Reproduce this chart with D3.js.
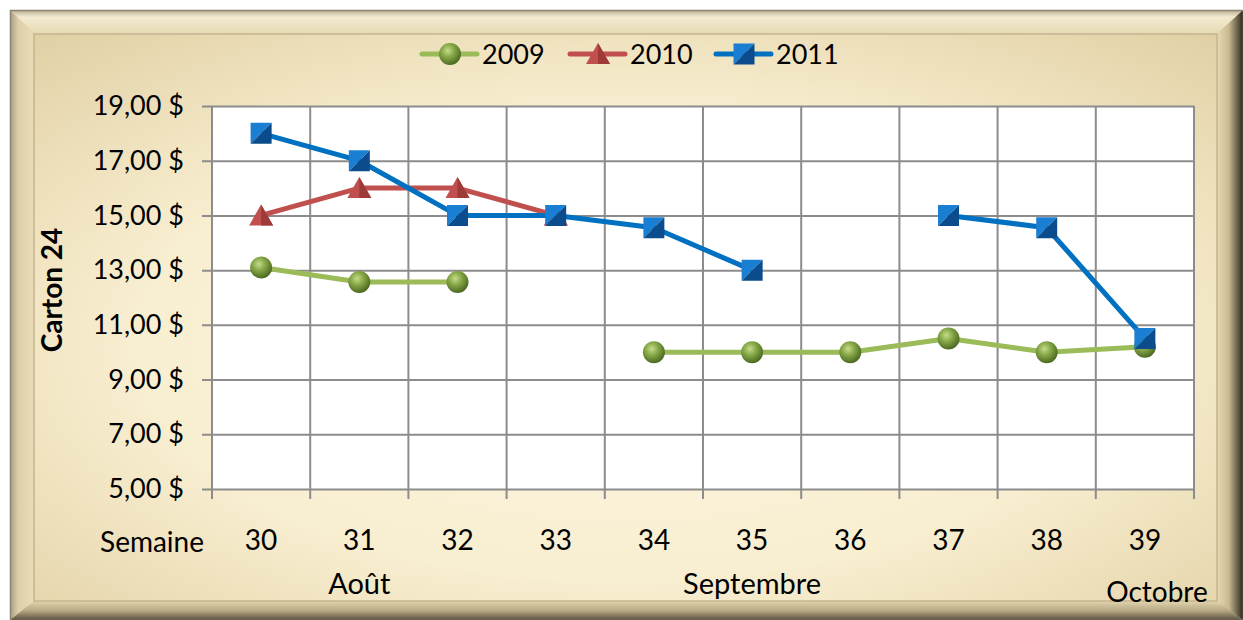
<!DOCTYPE html>
<html>
<head>
<meta charset="utf-8">
<script src="https://cdn.jsdelivr.net/npm/d3@7"></script>
<style>
  html, body { margin: 0; padding: 0; background: #fff; }
  svg { display: block; font-family: Lato, "Open Sans", sans-serif; }
</style>
</head>
<body>
<svg id="chart" width="1243" height="620"></svg>
<script>
// week numbers on the x axis
var weeks = ["30", "31", "32", "33", "34", "35", "36", "37", "38", "39"];
// price per carton of 24, null = no data that week
var v2009 = [13.1, 12.57, 12.57, null, 10.0, 10.0, 10.0, 10.5, 10.0, 10.2];
var v2010 = [15.0, 16.0, 16.0, 15.0, null, null, null, null, null, null];
var v2011 = [18.0, 17.0, 15.0, 15.0, 14.55, 13.0, null, 15.0, 14.55, 10.5];
var yTicks = [5, 7, 9, 11, 13, 15, 17, 19];
var months = [{label: "Août", week: "31"}, {label: "Septembre", week: "35"}];

var series = [
  {name: "2009", values: v2009, color: "#9bbb59", marker: "circle"},
  {name: "2010", values: v2010, color: "#c0504d", marker: "triangle"},
  {name: "2011", values: v2011, color: "#0070c0", marker: "square"}
];

var W = 1243, H = 620;
var plot = {left: 212, right: 1194, top: 106, bottom: 489};

var svg = d3.select("#chart");
var defs = svg.append("defs");

// ---- gradients
var bg = defs.append("radialGradient").attr("id", "panelBg")
    .attr("cx", "50%").attr("cy", "55%").attr("r", "75%");
bg.append("stop").attr("offset", "0%").attr("stop-color", "#fdf7e3");
bg.append("stop").attr("offset", "55%").attr("stop-color", "#f8eed0");
bg.append("stop").attr("offset", "100%").attr("stop-color", "#e0cfa3");

var rightBev = defs.append("linearGradient").attr("id", "rightBev")
    .attr("x1", "0%").attr("x2", "100%");
rightBev.append("stop").attr("offset", "0%").attr("stop-color", "#e6d8b2");
rightBev.append("stop").attr("offset", "45%").attr("stop-color", "#c9ba92");
rightBev.append("stop").attr("offset", "100%").attr("stop-color", "#2e281d");

var bottomBev = defs.append("linearGradient").attr("id", "bottomBev")
    .attr("x1", "0%").attr("x2", "0%").attr("y1", "0%").attr("y2", "100%");
bottomBev.append("stop").attr("offset", "0%").attr("stop-color", "#e2d4ad");
bottomBev.append("stop").attr("offset", "50%").attr("stop-color", "#b7a984");
bottomBev.append("stop").attr("offset", "100%").attr("stop-color", "#5b5242");

var leftBev = defs.append("linearGradient").attr("id", "leftBev")
    .attr("x1", "0%").attr("x2", "100%");
leftBev.append("stop").attr("offset", "0%").attr("stop-color", "#a89d84");
leftBev.append("stop").attr("offset", "35%").attr("stop-color", "#dccfaa");
leftBev.append("stop").attr("offset", "100%").attr("stop-color", "#e9dcb7");

var topBev = defs.append("linearGradient").attr("id", "topBev")
    .attr("x1", "0%").attr("x2", "0%").attr("y1", "0%").attr("y2", "100%");
topBev.append("stop").attr("offset", "0%").attr("stop-color", "#b8ad93");
topBev.append("stop").attr("offset", "30%").attr("stop-color", "#f3ead0");
topBev.append("stop").attr("offset", "100%").attr("stop-color", "#e6d9b4");

var ball = defs.append("radialGradient").attr("id", "ball")
    .attr("cx", "40%").attr("cy", "35%").attr("r", "65%");
ball.append("stop").attr("offset", "0%").attr("stop-color", "#c6dc8c");
ball.append("stop").attr("offset", "45%").attr("stop-color", "#86a847");
ball.append("stop").attr("offset", "100%").attr("stop-color", "#4d6a22");

// ---- frame
var o = {l: 10, t: 10, r: 1243, b: 620};
var i = {l: 34, t: 34, r: 1217, b: 601};
svg.append("rect").attr("x", o.l).attr("y", o.t)
    .attr("width", o.r - o.l).attr("height", o.b - o.t).attr("fill", "#d7c9a2");
function quad(pts, fill) {
  svg.append("path").attr("d", "M" + pts.join("L") + "Z").attr("fill", fill);
}
quad([[o.l, o.t], [o.r, o.t], [i.r, i.t], [i.l, i.t]], "url(#topBev)");
quad([[o.l, o.t], [i.l, i.t], [i.l, i.b], [o.l, o.b]], "url(#leftBev)");
quad([[o.r, o.t], [o.r, o.b], [i.r, i.b], [i.r, i.t]], "url(#rightBev)");
quad([[o.l, o.b], [i.l, i.b], [i.r, i.b], [o.r, o.b]], "url(#bottomBev)");
svg.append("rect").attr("x", o.l + 0.5).attr("y", o.t + 0.5)
    .attr("width", o.r - o.l).attr("height", o.b - o.t)
    .attr("fill", "none").attr("stroke", "#8d8470").attr("stroke-width", 1.5);
svg.append("rect").attr("x", i.l).attr("y", i.t)
    .attr("width", i.r - i.l).attr("height", i.b - i.t)
    .attr("fill", "url(#panelBg)").attr("stroke", "#c4b58e").attr("stroke-width", 1.5);

// ---- scales
var x = d3.scaleBand().domain(weeks).range([plot.left, plot.right]);
var y = d3.scaleLinear().domain([5, 19]).range([plot.bottom, plot.top]);
var cx = function(w) { return x(w) + x.bandwidth() / 2; };

// plot background
svg.append("rect").attr("x", plot.left).attr("y", plot.top)
    .attr("width", plot.right - plot.left).attr("height", plot.bottom - plot.top)
    .attr("fill", "#fff");

var gridColor = "#8c8c8c";
// horizontal gridlines + left ticks
var yAxis = d3.axisLeft(y).tickValues(yTicks)
    .tickSize(10).tickPadding(18)
    .tickFormat(function(d) { return d3.format(".2f")(d).replace(".", ",") + " $"; });
var gy = svg.append("g").attr("transform", "translate(" + plot.left + ",0)").call(yAxis);
gy.select(".domain").remove();
gy.selectAll("line").attr("stroke", gridColor).attr("stroke-width", 2)
    .attr("x2", -10).attr("x1", plot.right - plot.left);
gy.selectAll("text").attr("font-size", 27).attr("fill", "#000")
    .attr("font-family", "Lato, sans-serif");

// vertical gridlines at category boundaries + bottom ticks
var bounds = weeks.map(function(w) { return x(w); }).concat([plot.right]);
svg.append("g").selectAll("line").data(bounds).join("line")
    .attr("x1", function(d) { return d; }).attr("x2", function(d) { return d; })
    .attr("y1", plot.top).attr("y2", plot.bottom + 10)
    .attr("stroke", gridColor).attr("stroke-width", 2);

// x labels
var gx = svg.append("g");
gx.selectAll("text.wk").data(weeks).join("text").attr("class", "wk")
    .attr("x", cx).attr("y", 550).attr("text-anchor", "middle")
    .attr("font-size", 28).text(function(d) { return d; });
gx.append("text").attr("x", 204).attr("y", 552).attr("text-anchor", "end")
    .attr("font-size", 28).text("Semaine");
gx.selectAll("text.mo").data(months).join("text").attr("class", "mo")
    .attr("x", function(d) { return cx(d.week); }).attr("y", 594)
    .attr("text-anchor", "middle").attr("font-size", 29)
    .text(function(d) { return d.label; });
gx.append("text").attr("x", 1157).attr("y", 602).attr("text-anchor", "middle")
    .attr("font-size", 28).text("Octobre");

// y title
svg.append("text")
    .attr("transform", "translate(62,290) rotate(-90)")
    .attr("text-anchor", "middle").attr("font-size", 28).attr("font-weight", "bold")
    .text("Carton 24");

// ---- markers
function drawMarker(g, type, px, py, color, s) {
  s = s || 1;
  if (type === "circle") {
    g.append("circle").attr("cx", px).attr("cy", py).attr("r", 11 * s)
        .attr("fill", "url(#ball)");
  } else if (type === "triangle") {
    var h = 11 * s, w = 12 * s;
    g.append("path").attr("d", "M" + px + "," + (py - h) + "L" + (px + w) + "," + (py + h - 1) +
        "L" + (px - w) + "," + (py + h - 1) + "Z").attr("fill", "#c0504d");
    g.append("path").attr("d", "M" + px + "," + (py - h) + "L" + (px + w) + "," + (py + h - 1) +
        "L" + px + "," + (py + h - 1) + "Z").attr("fill", "#9e3a37");
  } else {
    var a = 10.5 * s;
    g.append("path").attr("d", "M" + (px - a) + "," + (py - a) + "L" + (px + a) + "," + (py - a) +
        "L" + (px - a) + "," + (py + a) + "Z").attr("fill", "#1a7fd2");
    g.append("path").attr("d", "M" + (px + a) + "," + (py - a) + "L" + (px + a) + "," + (py + a) +
        "L" + (px - a) + "," + (py + a) + "Z").attr("fill", "#0b4c8c");
  }
}

// ---- series
var line = d3.line()
    .defined(function(d) { return d.v != null; })
    .x(function(d) { return cx(d.w); })
    .y(function(d) { return y(d.v); });

series.forEach(function(s) {
  var pts = weeks.map(function(w, k) { return {w: w, v: s.values[k]}; });
  var g = svg.append("g");
  g.append("path").datum(pts).attr("d", line)
      .attr("fill", "none").attr("stroke", s.color).attr("stroke-width", 5)
      .attr("stroke-linejoin", "round");
  pts.filter(function(d) { return d.v != null; }).forEach(function(d) {
    drawMarker(g, s.marker, cx(d.w), y(d.v), s.color);
  });
});

// ---- legend
var legX = [422, 570, 716];
var leg = svg.append("g");
series.forEach(function(s, k) {
  var lx = legX[k], ly = 54;
  leg.append("line").attr("x1", lx).attr("x2", lx + 55).attr("y1", ly).attr("y2", ly)
      .attr("stroke", s.color).attr("stroke-width", 5).attr("stroke-linecap", "round");
  drawMarker(leg, s.marker, lx + 28, ly, s.color);
  leg.append("text").attr("x", lx + 60).attr("y", ly + 10).attr("font-size", 27)
      .text(s.name);
});
</script>
</body>
</html>
